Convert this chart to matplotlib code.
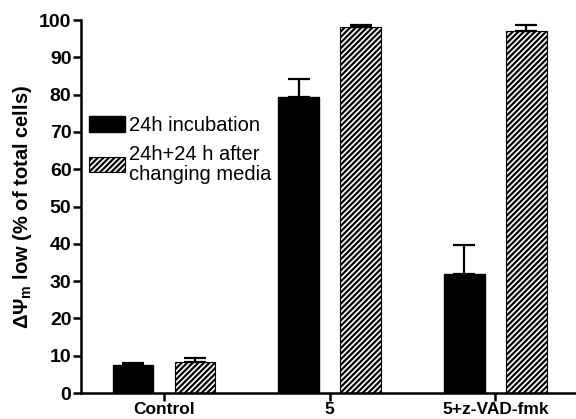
import matplotlib
matplotlib.use("Agg")
import matplotlib.pyplot as plt
import numpy as np

plt.rcParams['font.family'] = ['Liberation Sans', 'DejaVu Sans']
plt.rcParams['hatch.linewidth'] = 1.6
plt.rcParams['mathtext.fontset'] = 'custom'
plt.rcParams['mathtext.rm'] = 'Liberation Sans:bold'
plt.rcParams['mathtext.it'] = 'Liberation Sans:bold'
plt.rcParams['mathtext.bf'] = 'Liberation Sans:bold'

groups = ["Control", "5", "5+z-VAD-fmk"]
incubation = [7.6, 79.4, 31.9]
incubation_err = [0.5, 4.8, 7.8]
changed = [8.3, 98.2, 97.2]
changed_err = [1.1, 0.6, 1.6]
series_names = ["24h incubation", "24h+24 h after\nchanging media"]

fig, ax = plt.subplots(figsize=(5.76, 4.19), dpi=100)
fig.subplots_adjust(left=0.141, right=0.998, bottom=0.062, top=0.952)

x = np.arange(len(groups))
w = 0.245
off = 0.187
ax.bar(x - off, incubation, w, color='black', edgecolor='black',
       yerr=[np.zeros(3), incubation_err], capsize=8,
       error_kw=dict(elinewidth=1.6, capthick=1.6, ecolor='black'),
       label=series_names[0])
ax.bar(x + off, changed, w, color='white', edgecolor='black', hatch='//////',
       linewidth=0.8, yerr=[np.zeros(3), changed_err], capsize=8,
       error_kw=dict(elinewidth=1.6, capthick=1.6, ecolor='black'),
       label=series_names[1])

ax.set_xlim(-0.5, 2.48)
ax.set_ylim(0, 100)
ax.set_yticks(range(0, 101, 10))
ax.set_xticks(x)
ax.set_xticklabels(groups, fontsize=12.5, fontweight='bold')
for t in ax.get_yticklabels():
    t.set_fontsize(14)
    t.set_fontweight('bold')
ax.tick_params(axis='both', direction='out', width=1.8, length=6, pad=1)
ax.tick_params(axis='x', pad=0.5)
for s in ['top', 'right']:
    ax.spines[s].set_visible(False)
for s in ['left', 'bottom']:
    ax.spines[s].set_linewidth(1.8)

ax.set_ylabel(r"$\Delta\Psi_{m}$ low (% of total cells)", fontsize=14.5,
              fontweight='bold', labelpad=4)

leg = ax.legend(loc='upper left', bbox_to_anchor=(0.0, 0.765), frameon=False,
                fontsize=14.5, handlelength=1.75, handleheight=0.8,
                handletextpad=0.2, borderaxespad=0.0, labelspacing=0.5)
for t in leg.get_texts():
    t.set_linespacing(1.05)

fig.savefig("out.png", dpi=100)
